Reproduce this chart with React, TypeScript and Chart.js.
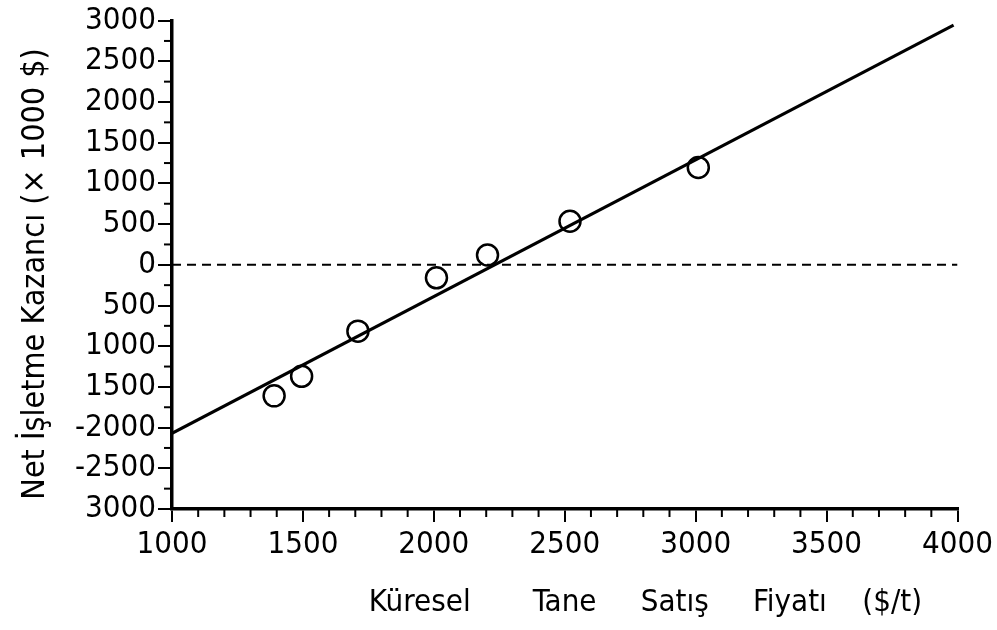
import React, { useEffect, useRef } from 'react';
import { Chart, registerables } from 'chart.js';

Chart.register(...registerables);

// Observed points: price ($/t) vs net operating income (x1000 $)
const priceX = [1390, 1495, 1710, 2010, 2205, 2520, 3010];
const incomeY = [-1610, -1370, -815, -160, 120, 535, 1195];

// Fitted line end points
const fitX = [1000, 3985];
const fitY = [-2070, 2945];

// Zero reference line
const zeroX = [1000, 4000];
const zeroY = [0, 0];

// Tick labels (as printed)
const xTickValues = [1000, 1500, 2000, 2500, 3000, 3500, 4000];
const xTickLabels = ['1000', '1500', '2000', '2500', '3000', '3500', '4000'];
const yTickValues = [3000, 2500, 2000, 1500, 1000, 500, 0, -500, -1000, -1500, -2000, -2500, -3000];
const yTickLabels = ['3000', '2500', '2000', '1500', '1000', '500', '0', '500', '1000', '1500', '-2000', '-2500', '3000'];

const xTitle = 'Küresel       Tane     Satış     Fiyatı    ($/t)    ';
const yTitle = 'Net İşletme Kazancı (× 1000 $)  ';

const FONT = "'DejaVu Sans Condensed', 'DejaVu Sans', sans-serif";

const minorTicks = {
  id: 'minorTicks',
  afterDraw(chart: any) {
    const ctx = chart.ctx;
    const xs = chart.scales.x;
    const ys = chart.scales.y;
    ctx.save();
    ctx.strokeStyle = '#000';
    ctx.lineWidth = 2;
    xs.ticks.forEach((t: any) => {
      if (t.value % 500 !== 0) {
        const px = xs.getPixelForValue(t.value);
        ctx.beginPath();
        ctx.moveTo(px, xs.top);
        ctx.lineTo(px, xs.top + 8);
        ctx.stroke();
      }
    });
    ys.ticks.forEach((t: any) => {
      if (t.value % 500 !== 0) {
        const py = ys.getPixelForValue(t.value);
        ctx.beginPath();
        ctx.moveTo(ys.right - 8, py);
        ctx.lineTo(ys.right, py);
        ctx.stroke();
      }
    });
    ctx.restore();
  },
};

export default function App() {
  const ref = useRef<HTMLCanvasElement | null>(null);

  useEffect(() => {
    document.body.style.margin = '0';
    const canvas = ref.current;
    if (!canvas) return;

    const points = priceX.map((x, i) => ({ x, y: incomeY[i] }));
    const fit = fitX.map((x, i) => ({ x, y: fitY[i] }));
    const zero = zeroX.map((x, i) => ({ x, y: zeroY[i] }));

    const xLabelFor = (v: number) => {
      const i = xTickValues.indexOf(v);
      return i >= 0 ? xTickLabels[i] : '';
    };
    const yLabelFor = (v: number) => {
      const i = yTickValues.indexOf(v);
      return i >= 0 ? yTickLabels[i] : '';
    };

    const chart = new Chart(canvas, {
      type: 'scatter',
      data: {
        datasets: [
          {
            data: zero,
            showLine: true,
            borderColor: '#000',
            borderWidth: 2,
            borderDash: [9, 6],
            pointRadius: 0,
          },
          {
            data: fit,
            showLine: true,
            borderColor: '#000',
            borderWidth: 3,
            pointRadius: 0,
          },
          {
            data: points,
            showLine: false,
            pointStyle: 'circle',
            pointRadius: 10.5,
            pointBorderWidth: 2.5,
            pointBorderColor: '#000',
            pointBackgroundColor: 'rgba(0,0,0,0)',
          },
        ],
      },
      options: {
        animation: false,
        responsive: true,
        maintainAspectRatio: false,
        layout: { padding: { top: 0, right: 2, left: 0, bottom: 0 } },
        plugins: {
          legend: { display: false },
          tooltip: { enabled: false },
        },
        scales: {
          x: {
            type: 'linear',
            min: 1000,
            max: 4000,
            afterFit: (s: any) => { s.height = 121; },
            border: { display: true, color: '#000', width: 3.5 },
            grid: {
              drawOnChartArea: false,
              drawTicks: true,
              tickLength: 13,
              lineWidth: 2,
              color: (c: any) => (c.tick && c.tick.value % 500 === 0 ? '#000' : 'rgba(0,0,0,0)'),
            },
            ticks: {
              stepSize: 100,
              autoSkip: false,
              maxRotation: 0,
              padding: 4,
              color: '#000',
              font: { family: FONT, size: 31 },
              callback: (v: any) => xLabelFor(Number(v)),
            },
            title: {
              display: true,
              text: xTitle,
              align: 'end',
              color: '#000',
              font: { family: FONT, size: 31 },
              padding: { top: 0, bottom: 8 },
            },
          },
          y: {
            type: 'linear',
            min: -3000,
            max: 3000,
            afterFit: (s: any) => { s.width = 172; },
            border: { display: true, color: '#000', width: 3.5 },
            grid: {
              drawOnChartArea: false,
              drawTicks: true,
              tickLength: 14,
              lineWidth: 2,
              color: (c: any) => (c.tick && c.tick.value % 500 === 0 ? '#000' : 'rgba(0,0,0,0)'),
            },
            ticks: {
              stepSize: 250,
              autoSkip: false,
              padding: 2,
              color: '#000',
              font: { family: FONT, size: 31 },
              callback: (v: any) => yLabelFor(Number(v)),
            },
            title: {
              display: true,
              text: yTitle,
              color: '#000',
              font: { family: FONT, size: 32 },
              padding: { top: 16, bottom: 0 },
            },
          },
        },
      },
      plugins: [minorTicks],
    } as any);

    return () => chart.destroy();
  }, []);

  return (
    <div style={{ position: 'fixed', left: 0, top: 0, width: 997, height: 630, background: '#fff' }}>
      <canvas ref={ref} />
    </div>
  );
}
